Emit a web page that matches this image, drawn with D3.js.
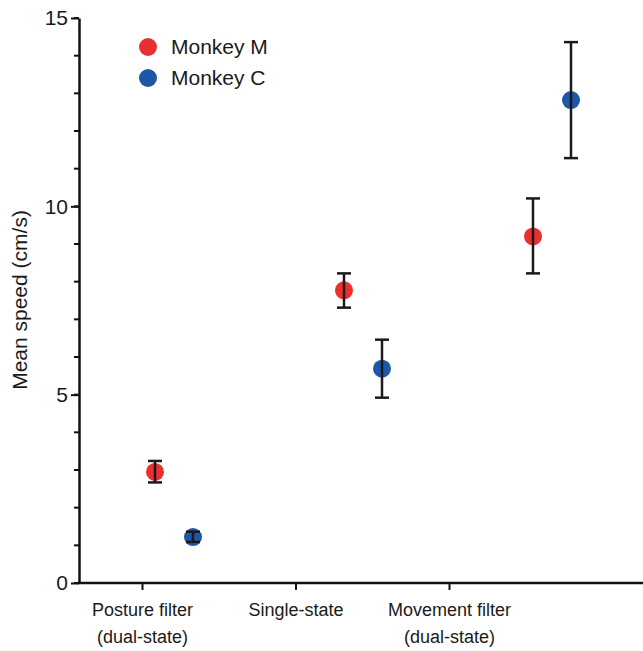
<!DOCTYPE html>
<html>
<head>
<meta charset="utf-8">
<script src="https://cdn.jsdelivr.net/npm/d3@7"></script>
<style>
  body { margin: 0; background: #fff; }
  text { font-family: "Liberation Sans", Arial, sans-serif; fill: #1a1a1a; }
</style>
</head>
<body>
<script>
// categories + values
var categories = ['Posture filter\n(dual-state)', 'Single-state', 'Movement filter\n(dual-state)']
var seriesNames = ['Monkey M', 'Monkey C']
var colors = ['#e8302f', '#1d58a8']
var meanM = [2.95, 7.77, 9.20]
var lowM = [2.67, 7.31, 8.22]
var highM = [3.24, 8.22, 10.21]
var meanC = [1.22, 5.69, 12.82]
var lowC = [1.09, 4.92, 11.28]
var highC = [1.36, 6.46, 14.36]
var yTicks = [0, 5, 10, 15]
var yMinor = d3.range(0, 16)

var width = 643, height = 651
var svg = d3.select('body').append('svg')
    .attr('width', width)
    .attr('height', height)

var y = d3.scaleLinear().domain([0, 15]).range([583, 18])

// axis labels sit on one scale, the markers on a wider one (as in the figure)
var xTick = d3.scalePoint().domain(categories).range([142, 449])
var xDot = d3.scalePoint().domain(categories).range([155, 533])
var dodge = 38

// y axis minor ticks every 1
svg.append('g').selectAll('line')
    .data(yMinor).enter().append('line')
    .attr('x1', 74).attr('x2', 79)
    .attr('y1', function (d) { return y(d) }).attr('y2', function (d) { return y(d) })
    .attr('stroke', '#111').attr('stroke-width', 2)

var yAxis = svg.append('g')
    .attr('transform', 'translate(79,0)')
    .call(d3.axisLeft(y).tickValues(yTicks).tickSize(8).tickSizeOuter(0).tickPadding(3))
yAxis.select('.domain').attr('stroke', '#111').attr('stroke-width', 2.5)
yAxis.selectAll('line').attr('stroke', '#111').attr('stroke-width', 2)
yAxis.selectAll('text').attr('font-size', 21).style('fill', '#1a1a1a')

// x axis
svg.append('line')
    .attr('x1', 78).attr('x2', width)
    .attr('y1', y(0)).attr('y2', y(0))
    .attr('stroke', '#111').attr('stroke-width', 2.5)

var xg = svg.append('g')
    .attr('transform', 'translate(0,' + y(0) + ')')
    .call(d3.axisBottom(xTick).tickSize(7).tickSizeOuter(0).tickFormat(function () { return '' }))
xg.select('.domain').remove()
xg.selectAll('line').attr('stroke', '#111').attr('stroke-width', 2)

xg.selectAll('.tick').append('text')
    .attr('text-anchor', 'middle')
    .attr('font-size', 18)
    .style('fill', '#1a1a1a')
    .selectAll('tspan')
    .data(function (d) { return d.split('\n') })
    .enter().append('tspan')
    .attr('x', 0)
    .attr('y', function (d, i) { return 33 + i * 27 })
    .text(function (d) { return d })

// y label
svg.append('text')
    .attr('transform', 'translate(27,300) rotate(-90)')
    .attr('text-anchor', 'middle')
    .attr('font-size', 21)
    .text('Mean speed (cm/s)')

// series
var series = [
    { name: seriesNames[0], color: colors[0], mean: meanM, low: lowM, high: highM, off: 0 },
    { name: seriesNames[1], color: colors[1], mean: meanC, low: lowC, high: highC, off: dodge }
]

series.forEach(function (s) {
    var pts = categories.map(function (c, i) {
        return { x: xDot(c) + s.off, m: s.mean[i], lo: s.low[i], hi: s.high[i] }
    })
    var g = svg.append('g')
    g.selectAll('circle').data(pts).enter().append('circle')
        .attr('cx', function (d) { return d.x })
        .attr('cy', function (d) { return y(d.m) })
        .attr('r', 9)
        .attr('fill', s.color)
    var eb = g.selectAll('g.err').data(pts).enter().append('g')
        .attr('stroke', '#1a1a1a').attr('stroke-width', 2.5)
    eb.append('line')
        .attr('x1', function (d) { return d.x }).attr('x2', function (d) { return d.x })
        .attr('y1', function (d) { return y(d.lo) }).attr('y2', function (d) { return y(d.hi) })
    eb.append('line')
        .attr('x1', function (d) { return d.x - 7 }).attr('x2', function (d) { return d.x + 7 })
        .attr('y1', function (d) { return y(d.lo) }).attr('y2', function (d) { return y(d.lo) })
    eb.append('line')
        .attr('x1', function (d) { return d.x - 7 }).attr('x2', function (d) { return d.x + 7 })
        .attr('y1', function (d) { return y(d.hi) }).attr('y2', function (d) { return y(d.hi) })
})

// legend
var leg = svg.append('g').selectAll('g')
    .data(series).enter().append('g')
    .attr('transform', function (d, i) { return 'translate(148,' + (47 + i * 31) + ')' })
leg.append('circle').attr('r', 9).attr('fill', function (d) { return d.color })
leg.append('text')
    .attr('x', 23).attr('dy', '0.35em')
    .attr('font-size', 21)
    .text(function (d) { return d.name })
</script>
</body>
</html>
